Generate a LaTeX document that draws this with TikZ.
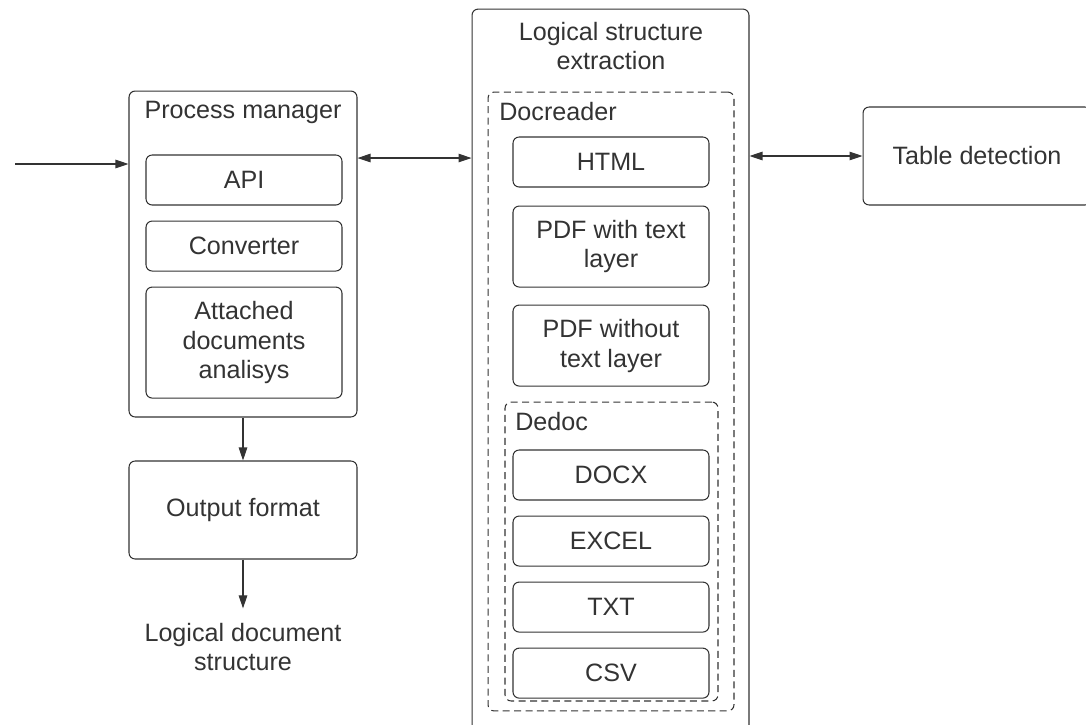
\documentclass[tikz,border=0pt]{standalone}
\usepackage{fontspec}
\setmainfont{Liberation Sans}
\usepackage{xcolor}
\usetikzlibrary{arrows.meta,positioning,calc}
\definecolor{lineGray}{RGB}{51,51,51}
\definecolor{textGray}{RGB}{51,51,51}

\begin{document}
\begin{tikzpicture}[
    x=0.02cm,y=-0.02cm,
    node distance=0.3cm,
    every node/.style={font=\fontsize{14.3}{17}\selectfont,text=textGray},
    outer/.style={draw=lineGray,rounded corners=3.5pt,line width=0.6pt},
    group/.style={outer,dashed,dash pattern=on 4pt off 2.5pt},
    item/.style={draw=lineGray,rounded corners=3.5pt,line width=0.6pt,minimum width=3.92cm,minimum height=1cm,align=center},
    lbl/.style={align=center,inner sep=0pt},
    arrow/.style={-{Triangle[length=2.6mm,width=1.7mm]},lineGray,line width=0.6pt},
    biarrow/.style={{Triangle[length=2.6mm,width=1.7mm]}-{Triangle[length=2.6mm,width=1.7mm]},lineGray,line width=0.6pt}
  ]
    \useasboundingbox (0,0) rectangle (1086,724);
    \clip (0,0) rectangle (1086,724);

    % left column
    \node[outer,minimum width=4.56cm,minimum height=6.52cm] (pm) at (243,254) {};
    \node[lbl] (pmtitle) at (243,112) {Process manager};
    \node[item] (api) at (244,180) {API};
    \node[item,below=of api] (conv) {Converter};
    \node[item,below=of conv,minimum height=2.22cm] (att) {Attached\\documents\\analisys};
    \node[outer,minimum width=4.56cm,minimum height=1.96cm] (out) at (243,510) {Output format};
    \node[lbl] (lds) at (243,647) {Logical document\\structure};
    \coordinate (in) at (15,164);

    % middle column
    \node[outer,minimum width=5.54cm,minimum height=14.62cm] (lse) at (610.5,374.5) {};
    \node[lbl] (lsetitle) at (611,46) {Logical structure\\extraction};
    \node[group,minimum width=4.92cm,minimum height=12.38cm] (dr) at (611,401.5) {};
    \node[lbl,anchor=west] (drtitle) at (499,112) {Docreader};
    \node[item] (html) at (611,162) {HTML};
    \node[item,below=0.36cm of html,minimum height=1.62cm] (pdft) {PDF with text\\layer};
    \node[item,below=0.34cm of pdft,minimum height=1.62cm] (pdfn) {PDF without\\text layer};
    \node[group,minimum width=4.26cm,minimum height=5.98cm] (dd) at (611.5,551.5) {};
    \node[lbl,anchor=west] (ddtitle) at (515,422) {Dedoc};
    \node[item] (docx) at (611,475) {DOCX};
    \node[item,below=of docx] (excel) {EXCEL};
    \node[item,below=of excel] (txt) {TXT};
    \node[item,below=of txt] (csv) {CSV};

    % right column
    \node[outer,minimum width=4.56cm,minimum height=1.96cm] (td) at (977,156) {Table detection};

    % connectors
    \draw[arrow] (in) -- (pm.west |- in);
    \draw[arrow] (pm) -- (out);
    \draw[arrow,shorten >=8pt] (out) -- (lds);
    \draw[biarrow] ([yshift=1.92cm]pm.east) -- ([yshift=1.92cm]pm.east -| lse.west);
    \draw[biarrow] (lse.east |- td.west) -- (td.west);
\end{tikzpicture}
\end{document}
